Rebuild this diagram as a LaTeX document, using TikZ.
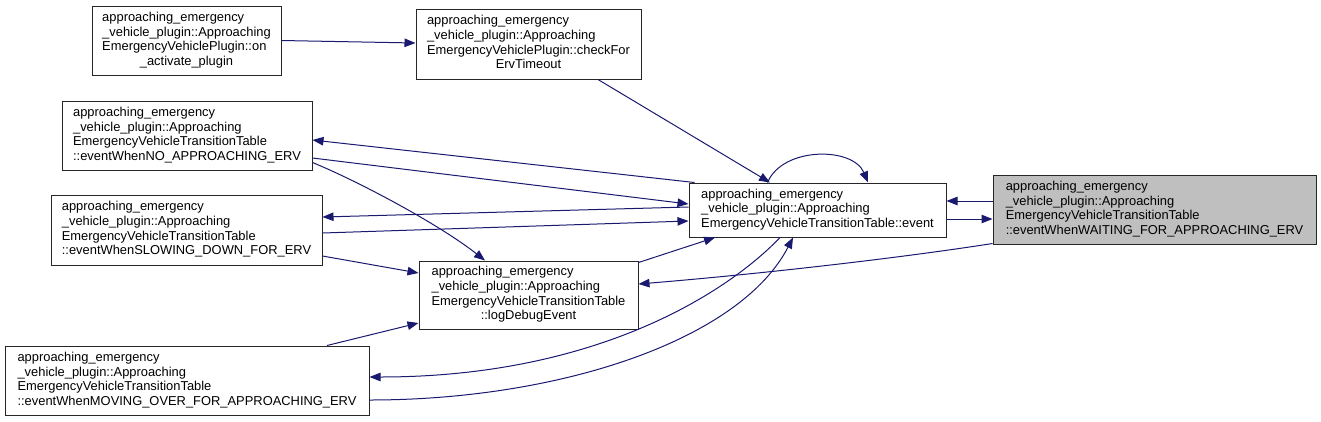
\documentclass[tikz,border=0pt]{standalone}
\usepackage{fontspec}
\setmainfont{Liberation Sans}
\usetikzlibrary{arrows.meta,calc}
\definecolor{edgeblue}{HTML}{191970}
\definecolor{selgray}{HTML}{BFBFBF}
\newcommand{\fn}[2]{\begin{tabular}{@{}l@{}}#1\\\multicolumn{1}{@{}c@{}}{#2}\end{tabular}}

\begin{document}
\begin{tikzpicture}[x=1pt,y=-1pt,
  fnbox/.style={draw=black!85,line width=1pt,fill=white,inner xsep=8pt,inner ysep=3pt,
    font=\fontsize{12.9}{14.7}\selectfont},
  curbox/.style={fnbox,fill=selgray},
  call/.style={draw=edgeblue,line width=1pt,-{Triangle[length=11pt,width=8.5pt]}}]
\useasboundingbox (0,0) rectangle (1321,421);

\node[fnbox,minimum width=189pt,minimum height=69pt] (onact) at (186.5,40.5)
  {\fn{approaching\_emergency\\\_vehicle\_plugin::Approaching\\EmergencyVehiclePlugin::on}{\_activate\_plugin}};
\node[fnbox,minimum width=225pt,minimum height=70pt] (check) at (528.5,44)
  {\fn{approaching\_emergency\\\_vehicle\_plugin::Approaching\\EmergencyVehiclePlugin::checkFor}{ErvTimeout}};
\node[fnbox,minimum width=250pt,minimum height=69pt] (noappr) at (187,135.5)
  {\fn{approaching\_emergency\\\_vehicle\_plugin::Approaching\\EmergencyVehicleTransitionTable}{::eventWhenNO\_APPROACHING\_ERV}};
\node[fnbox,minimum width=271pt,minimum height=70pt] (slow) at (186.5,230)
  {\fn{approaching\_emergency\\\_vehicle\_plugin::Approaching\\EmergencyVehicleTransitionTable}{::eventWhenSLOWING\_DOWN\_FOR\_ERV}};
\node[fnbox,minimum width=219pt,minimum height=68pt] (logdbg) at (528.5,295)
  {\fn{approaching\_emergency\\\_vehicle\_plugin::Approaching\\EmergencyVehicleTransitionTable}{::logDebugEvent}};
\node[fnbox,minimum width=364pt,minimum height=69pt] (moving) at (187,380.5)
  {\fn{approaching\_emergency\\\_vehicle\_plugin::Approaching\\EmergencyVehicleTransitionTable}{::eventWhenMOVING\_OVER\_FOR\_APPROACHING\_ERV}};
\node[fnbox,minimum width=257pt,minimum height=54pt] (event) at (817.5,210)
  {\fn{approaching\_emergency\\\_vehicle\_plugin::Approaching}{EmergencyVehicleTransitionTable::event}};
\node[curbox,minimum width=323pt,minimum height=69pt] (waiting) at (1154.5,209.5)
  {\fn{approaching\_emergency\\\_vehicle\_plugin::Approaching\\EmergencyVehicleTransitionTable}{::eventWhenWAITING\_FOR\_APPROACHING\_ERV}};

\draw[call] (onact.east) -- ($(check.west)+(0,-1)$);
\draw[call] ($(check.south)+(69.5,0)$) -- ($(event.north)+(-47.5,0)$);
\draw[call] ($(event.north)+(-50,0)$) .. controls +(15,-36) and +(-15,-36) .. ($(event.north)+(50.5,0)$);
\draw[call] ($(event.north west)+(6,0)$) -- ($(noappr.east)+(0,4.5)$);
\draw[call] ($(noappr.east)+(0,22.5)$) -- ($(event.west)+(0,-6)$);
\draw[call] ($(noappr.east)+(0,27)$) .. controls (360,182) and (440,225) .. ($(logdbg.north)+(-43.5,0)$);
\draw[call] ($(event.west)+(0,-3)$) -- ($(slow.east)+(0,-13)$);
\draw[call] ($(slow.east)+(0,3)$) -- ($(event.west)+(0,11)$);
\draw[call] ($(slow.east)+(0,26)$) -- ($(logdbg.west)+(0,-22)$);
\draw[call] ($(moving.north)+(140,0)$) -- ($(logdbg.west)+(0,28)$);
\draw[call] ($(logdbg.north east)+(0,2)$) -- ($(event.south)+(-102.5,0)$);
\draw[call] ($(event.south)+(-37.5,0)$) .. controls (730,290) and (600,377) .. ($(moving.east)+(0,-3.5)$);
\draw[call] ($(moving.east)+(0,19.5)$) .. controls (560,400) and (740,340) .. ($(event.south)+(-24.5,0)$);
\draw[call] ($(waiting.south west)+(0,-1)$) .. controls (900,258) and (760,274) .. ($(logdbg.east)+(0,-11)$);
\draw[call] ($(waiting.west)+(0,-8.5)$) -- ($(event.east)+(0,-9)$);
\draw[call] ($(event.east)+(0,9)$) -- ($(waiting.west)+(0,9.5)$);
\end{tikzpicture}
\end{document}
